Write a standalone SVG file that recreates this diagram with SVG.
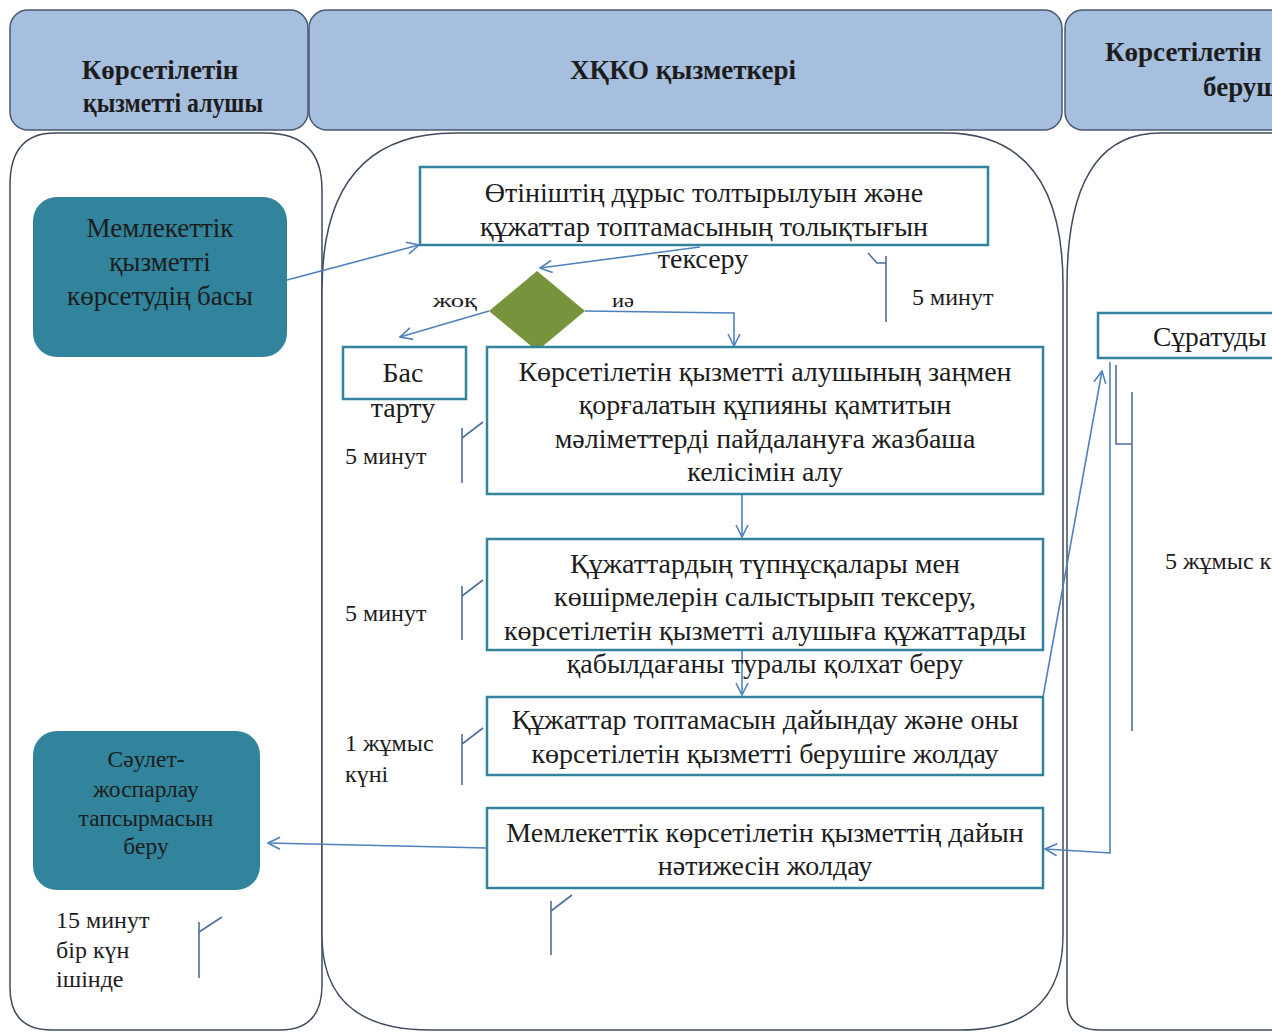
<svg xmlns="http://www.w3.org/2000/svg" width="1272" height="1032" viewBox="0 0 1272 1032">
<defs>
<style>
.hdr{fill:#a7bfde;stroke:#4a5870;stroke-width:1.5}
.lane{fill:#ffffff;stroke:#3f4b5e;stroke-width:1.5}
.box{fill:#ffffff;stroke:#31849b;stroke-width:2.5}
.term{fill:#31849b;stroke:none}
.t{font-family:"Liberation Serif","DejaVu Serif",serif;fill:#1c1c1c}
.h{font-size:27px;font-weight:bold}
.b{font-size:28px}
.s{font-size:24px}
.xs{font-size:19px}
.m{text-anchor:middle}
.con{fill:none;stroke:#4f81bd;stroke-width:1.6}
.brk{fill:none;stroke:#4f6f9e;stroke-width:1.6}
</style>
<marker id="arr" viewBox="0 0 14 14" refX="13" refY="7" markerWidth="14" markerHeight="14" orient="auto" markerUnits="userSpaceOnUse">
<path d="M1,1 L13,7 L1,13" fill="none" stroke="#4f81bd" stroke-width="1.6"/>
</marker>
</defs>

<g id="lanes">
<g id="lane-left">
<rect class="hdr" x="10" y="10" width="298" height="120" rx="18"/>
<path class="lane" d="M55,133 L265,133 Q322,133 322,190 L322,985 Q322,1030 280,1030 L52,1030 Q10,1030 10,988 L10,185 Q10,133 55,133 Z"/>
<text class="t h m" x="160" y="79">Көрсетілетін</text>
<text class="t h" x="83" y="112" textLength="180" lengthAdjust="spacingAndGlyphs">қызметті алушы</text>
</g>
<g id="lane-center">
<rect class="hdr" x="309" y="10" width="753" height="120" rx="18"/>
<path class="lane" d="M455,133 L945,133 Q1063,133 1063,285 L1063,935 Q1063,1030 960,1030 L430,1030 Q322,1030 322,935 L322,290 Q322,133 455,133 Z"/>
<text class="t h m" x="683" y="79">ХҚКО қызметкері</text>
</g>
<g id="lane-right">
<rect class="hdr" x="1065" y="10" width="240" height="120" rx="18"/>
<path class="lane" d="M1300,133 L1160,133 Q1067,133 1067,285 L1067,1000 Q1067,1030 1100,1030 L1300,1030"/>
<text class="t h" x="1105" y="61">Көрсетілетін</text>
<text class="t h" x="1203" y="96">беруші</text>
</g>
</g>

<g id="connectors">
<path class="con" d="M287,280 L419,245" marker-end="url(#arr)"/>
<path class="con" d="M700,247 L540,268" marker-end="url(#arr)"/>
<path class="con" d="M489,311 L400,337" marker-end="url(#arr)"/>
<path class="con" d="M585,311 L734,313 L734,346" marker-end="url(#arr)"/>
<path class="con" d="M742,494 L742,537" marker-end="url(#arr)"/>
<path class="con" d="M742,650 L742,695" marker-end="url(#arr)"/>
<path class="con" d="M1043,697 L1102,371" marker-end="url(#arr)"/>
<path class="con" d="M1110,362 L1110,853 L1045,849" marker-end="url(#arr)"/>
<path class="con" d="M487,848 L268,843" marker-end="url(#arr)"/>
</g>

<g id="brackets">
<path class="brk" d="M868,253 L877,263 L886,263 M886,256 L886,322"/>
<path class="brk" d="M483,422 L462,438 M462,428 L462,483"/>
<path class="brk" d="M483,580 L462,596 M462,586 L462,640"/>
<path class="brk" d="M483,728 L462,744 M462,734 L462,785"/>
<path class="brk" d="M572,895 L551,911 M551,901 L551,955"/>
<path class="brk" d="M222,917 L199,932 M199,922 L199,978"/>
<path class="brk" d="M1116,365 L1116,444 L1132,444 M1132,392 L1132,731"/>
</g>

<g id="node-start">
<rect class="term" x="33" y="197" width="254" height="160" rx="24"/>
<text class="t m" x="160" y="237" style="font-size:27px">Мемлекеттік</text>
<text class="t m" x="160" y="271" style="font-size:27px">қызметті</text>
<text class="t m" x="160" y="305" style="font-size:27px">көрсетудің басы</text>
</g>

<g id="node-check">
<rect class="box" x="420" y="167" width="568" height="78"/>
<text class="t b m" x="704" y="202">Өтініштің дұрыс толтырылуын және</text>
<text class="t b m" x="704" y="236">құжаттар топтамасының толықтығын</text>
<text class="t b m" x="703" y="268">тексеру</text>
</g>
<text class="t s" x="912" y="305">5 минут</text>

<g id="node-decision">
<path d="M489,311 L537,271 L585,311 L537,351 Z" fill="#77933c"/>
<text class="t xs" x="433" y="307" textLength="44" lengthAdjust="spacingAndGlyphs">жоқ</text>
<text class="t xs" x="612" y="307" textLength="22" lengthAdjust="spacingAndGlyphs">иә</text>
</g>

<g id="node-refuse">
<rect class="box" x="343" y="347" width="123" height="52"/>
<text class="t b m" x="403" y="382">Бас</text>
<text class="t b m" x="403" y="417">тарту</text>
</g>

<g id="node-consent">
<rect class="box" x="487" y="347" width="556" height="147"/>
<text class="t b m" x="765" y="381">Көрсетілетін қызметті алушының заңмен</text>
<text class="t b m" x="765" y="414">қорғалатын құпияны қамтитын</text>
<text class="t b m" x="765" y="448">мәліметтерді пайдалануға жазбаша</text>
<text class="t b m" x="765" y="481">келісімін алу</text>
</g>
<text class="t s" x="345" y="464">5 минут</text>

<g id="node-compare">
<rect class="box" x="487" y="539" width="556" height="111"/>
<text class="t b m" x="765" y="573">Құжаттардың түпнұсқалары мен</text>
<text class="t b m" x="765" y="606">көшірмелерін салыстырып тексеру,</text>
<text class="t b m" x="765" y="640">көрсетілетін қызметті алушыға құжаттарды</text>
<text class="t b m" x="765" y="673">қабылдағаны туралы қолхат беру</text>
</g>
<text class="t s" x="345" y="621">5 минут</text>

<g id="node-prepare">
<rect class="box" x="487" y="697" width="556" height="78"/>
<text class="t b m" x="765" y="729">Құжаттар топтамасын дайындау және оны</text>
<text class="t b m" x="765" y="763">көрсетілетін қызметті берушіге жолдау</text>
</g>
<text class="t s" x="345" y="751">1 жұмыс</text>
<text class="t s" x="345" y="782">күні</text>

<g id="node-send">
<rect class="box" x="487" y="808" width="556" height="80"/>
<text class="t b m" x="765" y="842">Мемлекеттік көрсетілетін қызметтің дайын</text>
<text class="t b m" x="765" y="875">нәтижесін жолдау</text>
</g>

<g id="node-end">
<rect class="term" x="33" y="731" width="227" height="159" rx="24"/>
<text class="t m" x="146" y="767" style="font-size:23.5px">Сәулет-</text>
<text class="t m" x="146" y="797" style="font-size:23.5px">жоспарлау</text>
<text class="t m" x="146" y="826" style="font-size:23.5px">тапсырмасын</text>
<text class="t m" x="146" y="854" style="font-size:23.5px">беру</text>
</g>
<text class="t s" x="56" y="928">15 минут</text>
<text class="t s" x="56" y="958">бір күн</text>
<text class="t s" x="56" y="987">ішінде</text>

<g id="node-request">
<rect class="box" x="1098" y="313" width="210" height="45"/>
<text class="t" x="1153" y="346" style="font-size:27.5px">Сұратуды</text>
</g>
<text class="t s" x="1165" y="569">5 жұмыс күні</text>
</svg>
